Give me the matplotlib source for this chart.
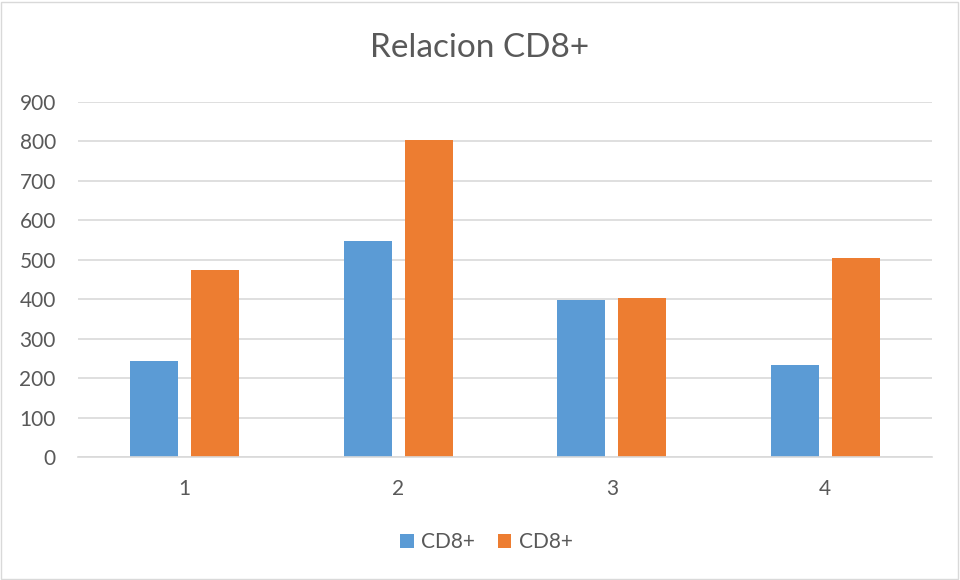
import numpy as np
import matplotlib.pyplot as plt
from matplotlib.patches import Rectangle

# Valores de las dos series por grupo
grupos = ['1', '2', '3', '4']
serie_a = [244, 547, 399, 234]
serie_b = [474, 803, 403, 505]
nombres = ['CD8+', 'CD8+']
yticks = [0, 100, 200, 300, 400, 500, 600, 700, 800, 900]

azul = '#5B9BD5'
naranja = '#ED7D31'
gris_texto = '#595959'

plt.rcParams['font.family'] = ['Lato', 'DejaVu Sans']

fig = plt.figure(figsize=(9.6, 5.8), dpi=100)
ax = fig.add_axes([78 / 960, 1 - 457 / 580, 854 / 960, 355 / 580])

x = np.arange(len(grupos))
ancho = 0.225
ax.bar(x - 0.143, serie_a, width=ancho, color=azul, label=nombres[0], zorder=3)
ax.bar(x + 0.143, serie_b, width=ancho, color=naranja, label=nombres[1], zorder=3)

ax.set_xlim(-0.5, len(grupos) - 0.5)
ax.set_ylim(0, 900)
ax.set_yticks(yticks)
ax.set_xticks(x)
ax.set_xticklabels(grupos)
ax.yaxis.grid(True, color='#d9d9d9', linewidth=1.2, zorder=0)
ax.tick_params(axis='both', length=0, labelsize=15, colors=gris_texto)
ax.tick_params(axis='y', pad=16)
ax.tick_params(axis='x', pad=16)
for lado in ['top', 'right', 'left']:
    ax.spines[lado].set_visible(False)
ax.spines['bottom'].set_color('#d9d9d9')
ax.spines['bottom'].set_linewidth(1.2)
ax.spines['bottom'].set_zorder(4)

fig.text(0.5, 1 - 48 / 580, 'Relacion CD8+', ha='center', va='center',
         fontsize=24, color=gris_texto)

ax.legend(loc='center', bbox_to_anchor=(0.478, (457 - 542) / 355), ncol=2,
          frameon=False, fontsize=15, labelcolor=gris_texto,
          handlelength=0.65, handleheight=0.65, handletextpad=0.35,
          columnspacing=1.1)

# Borde exterior del gráfico
fig.patches.append(Rectangle((1 / 960, 1 / 580), 957 / 960, 577 / 580,
                             transform=fig.transFigure, fill=False,
                             edgecolor='#d9d9d9', linewidth=1))

fig.savefig('out.png', dpi=100)
